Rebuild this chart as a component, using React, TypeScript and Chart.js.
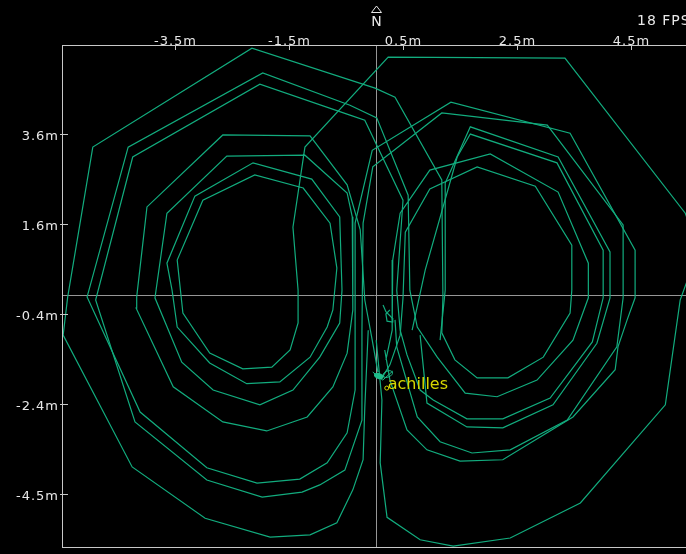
import React, { useEffect, useRef } from 'react';
import { Chart, registerables } from 'chart.js';

Chart.register(...registerables);

// Axis ticks (metres) and their labels
const xTickValues = [-3.5, -1.5, 0.5, 2.5, 4.5];
const xTickLabels = ['-3.5m', '-1.5m', '0.5m', '2.5m', '4.5m'];
const yTickValues = [3.55, 1.55, -0.45, -2.45, -4.45];
const yTickLabels = ['3.6m', '1.6m', '-0.4m', '-2.4m', '-4.5m'];
const xRange = [-5.48, 5.48];
const yRange = [-5.63, 5.53];

// Cross-hair (origin marker) and robot
const crossX = 0.03;
const crossY = -0.02;
const robotX = [0.18];
const robotY = [-1.83];
const robotNames = ['achilles'];
const fpsText = '18 FPS';
const northLabel = 'N';

// Trajectory segments (metres)
const path1X = [0.03, 0.13, 0.10, 0.22, 0.80, 1.38, 2.38, 3.61, 5.10, 5.36, 5.68, 5.45, 3.34, 0.24, -1.22, -1.43, -1.34, -1.34, -1.48, -1.80, -2.31, -2.89, -3.36, -3.46, -3.01, -2.10, -1.25, -0.78, -0.66, -0.73, -0.83, -1.13, -1.66, -2.24, -2.89, -3.46, -3.55, -3.64, -3.15, -2.13, -1.10, -0.61, -0.57, -0.61, -0.96, -1.43, -2.01, -2.83, -3.38, -3.85, -3.64, -2.59, -1.22, -0.48, -0.39, -0.38, -0.48, -0.73, -1.18, -1.89, -2.66, -3.53, -4.18, -4.17, -3.99, -2.66, -1.13, -0.48, -0.25, -0.17, -0.04, 0.06];
const path1Y = [-1.03, -2.36, -3.76, -4.97, -5.47, -5.61, -5.43, -4.65, -2.47, -0.14, 0.97, 1.79, 5.24, 5.26, 3.26, 1.48, 0.08, -0.65, -1.25, -1.63, -1.67, -1.32, -0.43, 0.75, 2.08, 2.64, 2.35, 1.57, 0.57, -0.36, -0.74, -1.41, -1.96, -2.00, -1.54, -0.74, 0.08, 0.68, 2.17, 2.91, 2.55, 1.71, 0.08, -0.65, -1.41, -2.14, -2.47, -2.14, -1.52, -0.09, 1.79, 3.06, 3.08, 2.24, 1.71, -0.36, -1.32, -2.07, -2.74, -3.05, -2.85, -2.07, -0.32, -0.07, 1.93, 3.53, 3.51, 2.42, 1.42, -0.14, -1.03, -1.74];

const path2X = [-0.11, -0.17, -0.20, -0.38, -0.66, -1.13, -1.83, -2.97, -4.25, -5.46, -5.38, -4.94, -2.15, 0.01, 0.36, 1.18, 1.20, 1.18, 1.41, 1.80, 2.34, 2.96, 3.43, 3.46, 3.46, 2.82, 1.80, 0.97, 0.54, 0.50, 0.45, 0.27, 0.13];
const path2Y = [-0.81, -2.52, -3.69, -4.36, -5.09, -5.36, -5.41, -4.99, -3.85, -0.92, -0.07, 3.26, 5.46, 4.57, 4.37, 2.53, -0.09, -0.87, -1.47, -1.87, -1.87, -1.41, -0.43, 0.08, 1.08, 2.39, 2.82, 2.33, 1.37, -0.09, -0.92, -1.58, -1.87];

const path3X = [0.18, 0.27, 0.57, 0.92, 1.50, 2.25, 3.48, 4.22, 4.27, 4.43, 4.57, 4.57, 3.43, 1.34, -0.04, -0.34, -0.34, -0.34, -0.48, -0.83, -1.31, -2.06, -2.94, -4.11, -5.04, -4.32, -1.96, -0.43, 0.04, 0.59, 0.62, 0.75, 1.10, 1.59, 2.15, 2.85, 3.48, 3.75, 3.75, 3.22, 2.03, 0.97, 0.45, 0.32, 0.31, 0.20];
const path3Y = [-1.25, -1.92, -3.03, -3.47, -3.72, -3.69, -2.74, -1.69, -1.18, -0.58, -0.09, 0.97, 3.57, 4.26, 3.19, 1.57, -0.14, -2.14, -3.09, -3.76, -4.12, -4.21, -3.87, -2.63, -0.07, 3.26, 4.91, 4.19, 3.91, 2.19, 0.08, -0.74, -1.41, -2.21, -2.29, -1.92, -1.03, -0.09, 0.68, 2.26, 3.11, 2.75, 1.79, 0.75, -0.81, -1.47];

const path4X = [0.36, 0.39, 0.75, 1.15, 1.71, 2.38, 3.38, 4.25, 4.36, 4.36, 3.03, 1.18, -0.03, -0.20, -0.22, -0.22, -0.52, -0.96, -1.27, -1.97, -2.94, -4.20, -4.89, -4.24, -2.01, -0.43, -0.17, 0.50, 0.39, 0.45, 0.57, 0.80, 1.03, 1.62, 2.25, 3.08, 3.82, 4.01, 4.01, 3.20, 1.68, 1.45, 0.89, 0.66];
const path4Y = [-0.58, -1.18, -2.74, -3.29, -3.54, -3.47, -2.81, -1.18, -0.09, 1.53, 3.75, 4.02, 2.82, 1.57, -0.81, -2.81, -3.92, -4.25, -4.41, -4.52, -4.14, -2.85, -0.14, 3.04, 4.66, 3.97, 3.86, 2.08, 0.08, -0.81, -1.36, -2.14, -2.36, -2.78, -2.78, -2.32, -1.07, -0.09, 0.97, 2.91, 3.55, 3.04, 0.53, -0.81];

const path5X = [0.80, 0.92, 1.62, 2.25, 3.13, 3.90, 4.13, 4.13, 3.22, 1.68, 1.24, 1.24, 1.15];
const path5Y = [-0.92, -2.43, -2.96, -2.98, -2.47, -1.10, -0.09, 0.93, 3.04, 3.71, 2.46, 0.08, -1.03];

const path6X = [0.15, 0.20, 0.31, 0.32, 0.22, 0.20, 0.27];
const path6Y = [-0.25, -0.40, -0.54, -0.63, -0.61, -0.45, -0.36];

const pathsX = [path1X, path2X, path3X, path4X, path5X, path6X];
const pathsY = [path1Y, path2Y, path3Y, path4Y, path5Y, path6Y];

const LINE = 'rgb(18,172,126)';
const FONT = '"DejaVu Sans", "Noto Sans", sans-serif';

const overlay = {
  id: 'overlay',
  beforeDatasetsDraw(chart: any) {
    const { ctx, chartArea: a, scales } = chart;
    const cx = Math.round(scales.x.getPixelForValue(crossX)) + 0.5;
    const cy = Math.round(scales.y.getPixelForValue(crossY)) + 0.5;
    ctx.save();
    ctx.strokeStyle = 'rgb(150,150,150)';
    ctx.lineWidth = 1;
    ctx.beginPath();
    ctx.moveTo(cx, a.top);
    ctx.lineTo(cx, a.bottom);
    ctx.moveTo(a.left, cy);
    ctx.lineTo(a.right, cy);
    ctx.stroke();
    ctx.restore();
  },
  afterDatasetsDraw(chart: any) {
    const { ctx, chartArea: a, scales } = chart;
    ctx.save();
    // border
    ctx.strokeStyle = 'rgb(200,200,200)';
    ctx.lineWidth = 1;
    ctx.strokeRect(Math.round(a.left) + 0.5, Math.round(a.top) + 0.5, Math.round(a.right - a.left), Math.round(a.bottom - a.top));
    // ticks & labels
    ctx.fillStyle = 'rgb(232,232,232)';
    ctx.font = '13px ' + FONT;
    (ctx as any).letterSpacing = '1px';
    ctx.beginPath();
    xTickValues.forEach((v, i) => {
      const px = Math.round(scales.x.getPixelForValue(v)) + 0.5;
      ctx.moveTo(px, a.top);
      ctx.lineTo(px, a.top + 5);
      ctx.textAlign = 'center';
      ctx.textBaseline = 'alphabetic';
      ctx.fillText(xTickLabels[i], px, a.top);
    });
    yTickValues.forEach((v, i) => {
      const py = Math.round(scales.y.getPixelForValue(v)) + 0.5;
      ctx.moveTo(a.left - 2, py);
      ctx.lineTo(a.left + 6, py);
      ctx.textAlign = 'right';
      ctx.textBaseline = 'alphabetic';
      ctx.fillText(yTickLabels[i], a.left - 3, py + 5);
    });
    ctx.stroke();
    (ctx as any).letterSpacing = '0px';
    // north marker
    const nx = Math.round(scales.x.getPixelForValue(crossX)) + 0.5;
    ctx.strokeStyle = 'rgb(232,232,232)';
    ctx.beginPath();
    ctx.moveTo(nx, 6);
    ctx.lineTo(nx - 5, 12.5);
    ctx.lineTo(nx + 5, 12.5);
    ctx.closePath();
    ctx.stroke();
    ctx.textAlign = 'center';
    ctx.font = '14px ' + FONT;
    ctx.fillText(northLabel, nx, 26);
    // fps
    ctx.textAlign = 'left';
    ctx.font = '14px ' + FONT;
    (ctx as any).letterSpacing = '1px';
    ctx.fillText(fpsText, 637, 25);
    (ctx as any).letterSpacing = '0px';
    // robot
    robotX.forEach((rx, i) => {
      const px = scales.x.getPixelForValue(rx);
      const py = scales.y.getPixelForValue(robotY[i]);
      ctx.fillStyle = 'rgb(30,190,140)';
      ctx.strokeStyle = 'rgb(30,190,140)';
      ctx.beginPath();
      ctx.ellipse(px - 6, py, 5, 3, 0.3, 0, Math.PI * 2);
      ctx.fill();
      ctx.beginPath();
      ctx.ellipse(px + 3, py - 2, 5, 3, -0.4, 0, Math.PI * 2);
      ctx.stroke();
      ctx.beginPath();
      ctx.moveTo(px - 12, py - 4);
      ctx.lineTo(px - 2, py + 4);
      ctx.lineTo(px + 8, py - 5);
      ctx.stroke();
      ctx.strokeStyle = 'rgb(220,220,0)';
      ctx.beginPath();
      ctx.arc(px + 2, py + 12, 2, 0, Math.PI * 2);
      ctx.stroke();
      ctx.fillStyle = 'rgb(215,215,0)';
      ctx.font = '16px ' + FONT;
      ctx.textAlign = 'left';
      ctx.fillText(robotNames[i], px + 3, py + 13);
    });
    ctx.restore();
  },
};

export default function App() {
  const canvasRef = useRef<HTMLCanvasElement | null>(null);
  useEffect(() => {
    if (!canvasRef.current) return;
    const datasets = pathsX.map((xs, k) => ({
      data: xs.map((x, i) => ({ x, y: pathsY[k][i] })),
      showLine: true,
      borderColor: LINE,
      backgroundColor: LINE,
      borderWidth: 1.2,
      pointRadius: 0,
      pointHoverRadius: 0,
      tension: 0,
      fill: false,
    }));
    const chart = new Chart(canvasRef.current, {
      type: 'scatter',
      data: { datasets },
      options: {
        animation: false,
        responsive: true,
        maintainAspectRatio: false,
        events: [],
        layout: { padding: { left: 0, top: 0, right: 3, bottom: 7 } },
        plugins: { legend: { display: false }, tooltip: { enabled: false } },
        scales: {
          x: {
            type: 'linear',
            position: 'top',
            min: xRange[0],
            max: xRange[1],
            grid: { display: false },
            border: { display: false },
            ticks: { display: false },
            afterFit: (s: any) => { s.height = 45; },
          },
          y: {
            type: 'linear',
            position: 'left',
            min: yRange[0],
            max: yRange[1],
            grid: { display: false },
            border: { display: false },
            ticks: { display: false },
            afterFit: (s: any) => { s.width = 62; },
          },
        },
      },
      plugins: [overlay],
    } as any);
    return () => chart.destroy();
  }, []);
  return (
    <div style={{ position: 'fixed', left: 0, top: 0, width: 686, height: 554, overflow: 'hidden', background: '#000' }}>
      <div style={{ position: 'relative', width: 690, height: 554 }}>
        <canvas ref={canvasRef} />
      </div>
    </div>
  );
}
